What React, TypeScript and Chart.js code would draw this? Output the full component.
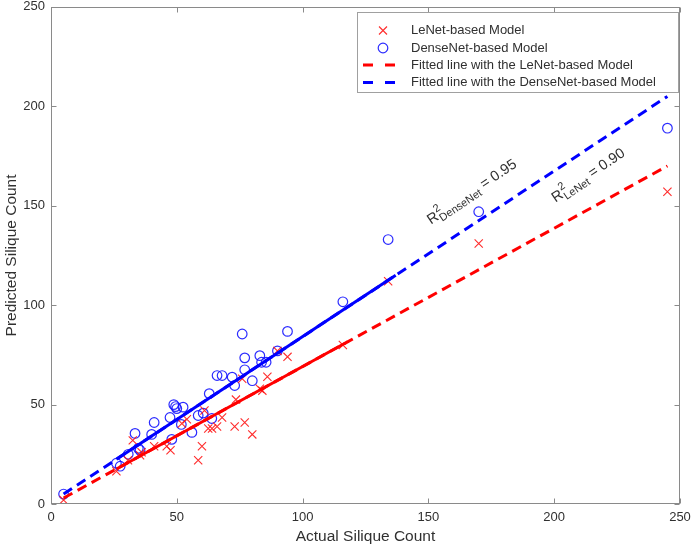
import React, { useEffect, useRef } from "react";
import { Chart, registerables } from "chart.js";

Chart.register(...registerables);

// ---------- data ----------
const xTicks = [0, 50, 100, 150, 200, 250];
const yTicks = [0, 50, 100, 150, 200, 250];

const leNetActual = [5, 26, 30.6, 32.5, 35.4, 36, 41, 46, 47.5, 52, 54, 58.5, 60, 61, 62.5, 64, 66, 68, 73, 73.5, 76, 77, 80, 83, 84, 86, 90, 94, 116, 134, 170, 245];
const leNetPredicted = [2, 16.5, 22, 32, 24.5, 26, 29, 29, 27, 40.5, 42.6, 22, 29, 47, 38, 38, 39, 43.5, 39, 52.5, 63, 41, 35, 58, 57, 64, 77, 74, 80, 112, 131, 157];

const denseActual = [5, 26, 27.5, 30.7, 33.4, 34.7, 35.4, 40, 41, 47.3, 48, 48.8, 49.5, 50, 52.5, 51.8, 56, 58.5, 60.5, 62.9, 63.9, 66, 68, 72, 73, 77, 77, 76, 80, 83, 83.7, 85.5, 90, 94, 116, 134, 170, 245];
const densePredicted = [5, 20.5, 19, 25, 35.5, 28, 27, 35, 41, 43.5, 32.5, 50, 49, 48, 48.7, 40, 36, 44.5, 45.7, 55.5, 43, 64.6, 64.6, 63.8, 59.6, 67.5, 73.5, 85.5, 62, 74.6, 71.3, 71.3, 77, 86.8, 101.7, 133, 147, 189];

const leNetFitX = [5, 245];
const leNetFitY = [3, 170];
const leNetSolidX = [26, 117];
const leNetSolidY = [17.6, 81];

const denseFitX = [5, 245];
const denseFitY = [5, 205];
const denseSolidX = [26, 137];
const denseSolidY = [22.5, 115];

const legendLabels = [
  "LeNet-based Model",
  "DenseNet-based Model",
  "Fitted line with the LeNet-based Model",
  "Fitted line with the DenseNet-based Model",
];
const xTitle = "Actual Silique Count";
const yTitle = "Predicted Silique Count";

const r2Subs = ["DenseNet", "LeNet"];
const r2Values = [" = 0.95", " = 0.90"];

// ---------- style ----------
const FONT = '"Liberation Sans", Arial, Helvetica, sans-serif';
const RED = "#ff0000";
const BLUE = "#0000ff";
const AXIS = "#8a8a8a";
const TEXT = "#303030";

const toPts = (xs: number[], ys: number[]) => xs.map((x, i) => ({ x, y: ys[i] }));

function drawR2(ctx: CanvasRenderingContext2D, x: number, y: number, angDeg: number, sub: string, val: string) {
  ctx.save();
  ctx.translate(x, y);
  ctx.rotate((-angDeg * Math.PI) / 180);
  ctx.fillStyle = TEXT;
  ctx.textAlign = "left";
  ctx.textBaseline = "alphabetic";
  ctx.font = `14.5px ${FONT}`;
  ctx.fillText("R", 0, 0);
  const rw = ctx.measureText("R").width + 0.5;
  ctx.font = `11px ${FONT}`;
  ctx.fillText("2", rw, -7);
  ctx.fillText(sub, rw, 4);
  const sw = Math.max(ctx.measureText("2").width, ctx.measureText(sub).width);
  ctx.font = `14.5px ${FONT}`;
  ctx.fillText(val, rw + sw, 0);
  ctx.restore();
}

const framePlugin = {
  id: "matlabFrame",
  afterDatasetsDraw(chart: any) {
    const { ctx, chartArea: a, scales } = chart;
    const xs = scales.x;
    const ys = scales.y;
    ctx.save();

    // R^2 annotations
    const labelPos = [
      { x: 151, y: 140.5 },
      { x: 200.5, y: 151.5 },
    ];
    r2Subs.forEach((s, i) => {
      drawR2(ctx, xs.getPixelForValue(labelPos[i].x), ys.getPixelForValue(labelPos[i].y), 34, s, r2Values[i]);
    });

    // axes box
    const L = Math.round(a.left) + 0.5;
    const R = Math.round(a.right) - 0.5;
    const T = Math.round(a.top) + 0.5;
    const B = Math.round(a.bottom) - 0.5;
    ctx.strokeStyle = AXIS;
    ctx.lineWidth = 1;
    ctx.strokeRect(L, T, R - L, B - T);

    // inward ticks
    const tl = 5;
    ctx.beginPath();
    xTicks.forEach((v) => {
      const px = Math.round(xs.getPixelForValue(v)) + 0.5;
      ctx.moveTo(px, B);
      ctx.lineTo(px, B - tl);
      ctx.moveTo(px, T);
      ctx.lineTo(px, T + tl);
    });
    yTicks.forEach((v) => {
      const py = Math.round(ys.getPixelForValue(v)) + 0.5;
      ctx.moveTo(L, py);
      ctx.lineTo(L + tl, py);
      ctx.moveTo(R, py);
      ctx.lineTo(R - tl, py);
    });
    ctx.stroke();

    // tick labels
    ctx.fillStyle = TEXT;
    ctx.font = `13px ${FONT}`;
    ctx.textAlign = "center";
    ctx.textBaseline = "top";
    xTicks.forEach((v) => ctx.fillText(String(v), xs.getPixelForValue(v), a.bottom + 7));
    ctx.textAlign = "right";
    ctx.textBaseline = "middle";
    yTicks.forEach((v) => ctx.fillText(String(v), a.left - 6, ys.getPixelForValue(v)));

    // axis titles
    ctx.font = `15.5px ${FONT}`;
    ctx.textAlign = "center";
    ctx.textBaseline = "middle";
    ctx.fillText(xTitle, (a.left + a.right) / 2, 537);
    ctx.save();
    ctx.translate(12, (a.top + a.bottom) / 2);
    ctx.rotate(-Math.PI / 2);
    ctx.fillText(yTitle, 0, 0);
    ctx.restore();

    // legend
    const bx = 357.5, by = 12.5, bw = 321, bh = 80;
    ctx.fillStyle = "#ffffff";
    ctx.fillRect(bx, by, bw, bh);
    ctx.strokeStyle = "#a0a0a0";
    ctx.strokeRect(bx, by, bw, bh);
    const rows = [30.5, 48, 65, 82.5];
    const mx = 383;
    // row 1: red cross
    ctx.strokeStyle = "rgba(255,20,20,0.9)";
    ctx.lineWidth = 1.1;
    ctx.beginPath();
    ctx.moveTo(mx - 4, rows[0] - 4);
    ctx.lineTo(mx + 4, rows[0] + 4);
    ctx.moveTo(mx + 4, rows[0] - 4);
    ctx.lineTo(mx - 4, rows[0] + 4);
    ctx.stroke();
    // row 2: blue circle
    ctx.strokeStyle = "rgba(20,20,255,0.9)";
    ctx.lineWidth = 1.2;
    ctx.beginPath();
    ctx.arc(mx, rows[1], 4.8, 0, Math.PI * 2);
    ctx.stroke();
    // rows 3-4: dashed samples
    [RED, BLUE].forEach((c, i) => {
      const yy = rows[2 + i];
      ctx.strokeStyle = c;
      ctx.lineWidth = 3;
      ctx.beginPath();
      ctx.moveTo(363, yy);
      ctx.lineTo(373, yy);
      ctx.moveTo(385, yy);
      ctx.lineTo(395, yy);
      ctx.stroke();
    });
    ctx.fillStyle = TEXT;
    ctx.font = `13px ${FONT}`;
    ctx.textAlign = "left";
    ctx.textBaseline = "middle";
    legendLabels.forEach((t, i) => ctx.fillText(t, 411, rows[i]));

    ctx.restore();
  },
};

export default function App() {
  const ref = useRef<HTMLCanvasElement | null>(null);

  useEffect(() => {
    if (!ref.current) return;
    const chart = new Chart(ref.current, {
      type: "scatter",
      data: {
        datasets: [
          {
            label: legendLabels[0],
            data: toPts(leNetActual, leNetPredicted),
            pointStyle: "crossRot",
            pointRadius: 5.8,
            borderColor: "rgba(255,20,20,0.9)",
            backgroundColor: "rgba(255,20,20,0.9)",
            borderWidth: 1.1,
            order: 3,
          },
          {
            label: legendLabels[1],
            data: toPts(denseActual, densePredicted),
            pointStyle: "circle",
            pointRadius: 4.8,
            borderColor: "rgba(20,20,255,0.9)",
            backgroundColor: "rgba(0,0,0,0)",
            borderWidth: 1.2,
            order: 3,
          },
          {
            label: legendLabels[2],
            data: toPts(leNetFitX, leNetFitY),
            showLine: true,
            pointRadius: 0,
            borderColor: RED,
            borderWidth: 3,
            borderDash: [10, 6],
            order: 2,
          },
          {
            label: legendLabels[3],
            data: toPts(denseFitX, denseFitY),
            showLine: true,
            pointRadius: 0,
            borderColor: BLUE,
            borderWidth: 3,
            borderDash: [10, 6],
            order: 1,
          },
          {
            label: "leNetSolid",
            data: toPts(leNetSolidX, leNetSolidY),
            showLine: true,
            pointRadius: 0,
            borderColor: RED,
            borderWidth: 3,
            order: 2,
          },
          {
            label: "denseSolid",
            data: toPts(denseSolidX, denseSolidY),
            showLine: true,
            pointRadius: 0,
            borderColor: BLUE,
            borderWidth: 3,
            order: 1,
          },
        ],
      },
      options: {
        responsive: false,
        animation: false,
        devicePixelRatio: 1,
        layout: { padding: { left: 51, right: 13, top: 5, bottom: 43 } },
        plugins: { legend: { display: false }, tooltip: { enabled: false } },
        scales: {
          x: { type: "linear", min: 0, max: 250, display: false },
          y: { type: "linear", min: 0, max: 250, display: false },
        },
      },
      plugins: [framePlugin],
    });
    return () => chart.destroy();
  }, []);

  return (
    <div style={{ position: "fixed", left: 0, top: 0, width: 693, height: 547, background: "#fff" }}>
      <canvas ref={ref} width={693} height={547} style={{ display: "block" }} />
    </div>
  );
}
